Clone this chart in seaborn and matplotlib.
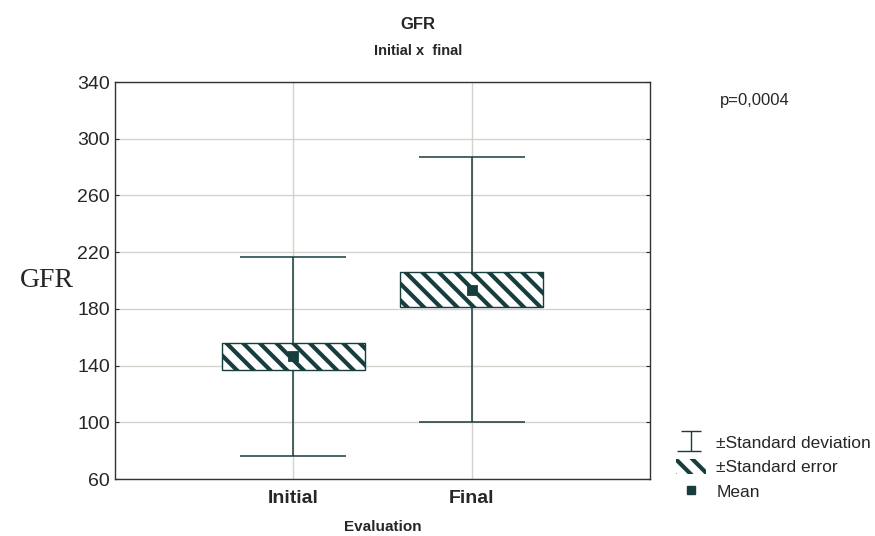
import matplotlib
matplotlib.use('Agg')
import matplotlib.pyplot as plt
import seaborn as sns
import numpy as np
import pandas as pd
from matplotlib.patches import Patch
from matplotlib.lines import Line2D
from matplotlib.path import Path

# values
groups = ["Initial", "Final"]
means = [146.5, 193.6]
std_err = [9.2, 12.4]
std_dev = [70.2, 93.4]
p_text = "p=0,0004"

dark = '#173d3d'
grid_col = '#d4d2cb'

df = pd.DataFrame({"Evaluation": groups, "GFR": means})

sns.set_style("white")
plt.rcParams['font.family'] = ['Liberation Sans', 'DejaVu Sans']
plt.rcParams['hatch.linewidth'] = 3.0
plt.rcParams['hatch.color'] = dark

fig = plt.figure(figsize=(8.75, 5.36), dpi=100)
ax = fig.add_axes([0.131, 0.106, 0.612, 0.741])

pos = np.arange(len(groups))
lo = np.array(means) - np.array(std_err)

# SD whiskers
ax.errorbar(pos, means, yerr=std_dev, fmt='none', ecolor=dark,
            elinewidth=1.1, capsize=38, capthick=1.1, zorder=2)
# SE boxes
ax.bar(pos, 2 * np.array(std_err), bottom=lo, width=0.8, color='white',
       edgecolor=dark, hatch='\\\\', linewidth=1.0, zorder=3)
# means
sns.pointplot(data=df, x="Evaluation", y="GFR", errorbar=None, linestyle='none',
              marker='s', markersize=5.5, color=dark, ax=ax, zorder=4)

ax.set_xlim(-1, 2)
ax.set_ylim(60, 340)
ax.set_yticks(np.arange(60, 341, 40))
ax.set_xticks(pos)
ax.set_xticklabels(groups, fontsize=14, fontweight='bold')
ax.tick_params(axis='y', labelsize=14, direction='in', length=3, right=True, left=True)
ax.tick_params(axis='x', length=0, pad=8)
ax.grid(True, color=grid_col, linewidth=1.0, zorder=0)
ax.set_axisbelow(True)
for s in ax.spines.values():
    s.set_color('#333333')
    s.set_linewidth(1.0)

ax.set_xlabel("Evaluation", fontsize=11, fontweight='bold', labelpad=9)
ax.set_ylabel("GFR", fontsize=20, rotation=0, family=['Liberation Serif'],
              labelpad=22, va='center')

fig.text(0.478, 0.955, "GFR", ha='center', va='center', fontsize=12, fontweight='bold')
fig.text(0.478, 0.905, "Initial x  final", ha='center', va='center', fontsize=10.5,
         fontweight='bold')
fig.text(0.823, 0.813, p_text, ha='left', va='center', fontsize=12)

# I-beam symbol for the SD legend entry
ibeam = Path([(-0.5, 0.5), (0.5, 0.5), (0, 0.5), (0, -0.5), (-0.7, -0.5), (0.5, -0.5)],
             [Path.MOVETO, Path.LINETO, Path.MOVETO, Path.LINETO, Path.MOVETO, Path.LINETO])
handles = [Line2D([], [], marker=ibeam, linestyle='none', color=dark, markersize=20,
                  markerfacecolor='none', markeredgewidth=1.0),
           Patch(facecolor='white', edgecolor=dark, hatch='\\\\', linewidth=0),
           Line2D([], [], marker='s', linestyle='none', color=dark, markersize=5.5)]
labels = ["±Standard deviation", "±Standard error", "Mean"]
fig.legend(handles, labels, loc='lower left', bbox_to_anchor=(0.755, 0.038),
           frameon=False, fontsize=12.5, handlelength=1.7, handleheight=1.0,
           labelspacing=0.45, handletextpad=0.6)

plt.savefig("out.png", dpi=100)
plt.close()
